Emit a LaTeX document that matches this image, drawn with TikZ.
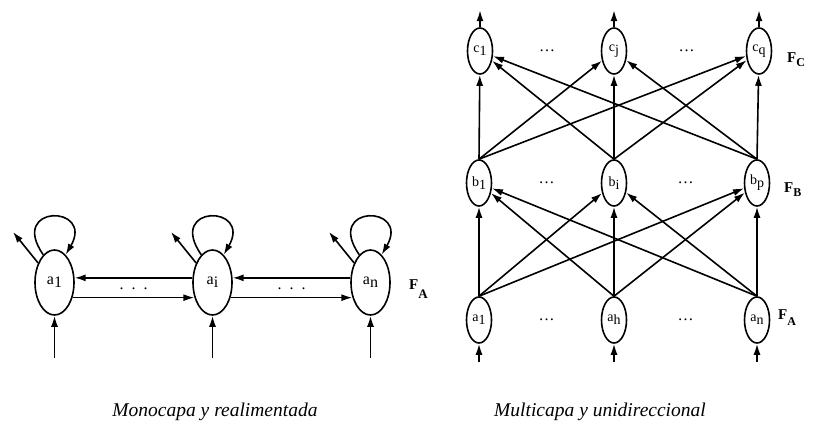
\documentclass[tikz,border=0pt]{standalone}
\usepackage{fontspec}
\setmainfont{Liberation Serif}
\usetikzlibrary{positioning,calc,shapes.geometric,arrows.meta}

\begin{document}
\begin{tikzpicture}[
    x=1pt, y=1pt,
    line width=1.6pt,
    every node/.style={font=\fontsize{16}{18}\selectfont},
    bigcell/.style={
        draw,
        ellipse,
        minimum width=39pt,
        minimum height=65pt,
        inner sep=0pt
    },
    cell/.style={
        draw,
        ellipse,
        minimum width=25pt,
        minimum height=46pt,
        inner sep=0pt,
        font=\fontsize{14}{16}\selectfont
    },
    layer/.style={font=\fontsize{15}{17}\selectfont\bfseries, anchor=west},
    caption/.style={font=\fontsize{19.5}{22}\selectfont\itshape},
    arrow/.style={-{Latex[length=11pt,width=7pt]}}
]
\useasboundingbox (0,0) rectangle (834,429);

% left: single layer with feedback
\node[bigcell] (a1) at (54.5,146.5) {a\raisebox{-3pt}{1}};
\node[bigcell] (ai) at (212.5,146.5) {a\raisebox{-3pt}{i}};
\node[bigcell] (an) at (370.5,146.5) {a\raisebox{-3pt}{n}};

\foreach \n in {a1,ai,an} {
    \draw[arrow] (\n.112) .. controls +(125:62) and +(60:58) .. (\n.68);
    \draw[arrow] (\n.130) -- ++(129:40);
    \coordinate (\n-in) at ($(\n.south)+(0,-42)$);
    \draw[arrow] (\n-in) -- (\n.south);
}

\draw[arrow] (ai.167) -- (a1.13);
\draw[arrow] (a1.-40) -- (ai.220);
\draw[arrow] (an.167) -- (ai.13);
\draw[arrow] (ai.-40) -- (an.220);

\node (d1) at ($(a1)!0.5!(ai)+(0,-6)$) {.\hspace{8pt}.\hspace{8pt}.};
\node (d2) at ($(ai)!0.5!(an)+(0,-6)$) {.\hspace{8pt}.\hspace{8pt}.};

\node[layer] (fa1) at (405,140) {F\raisebox{-9pt}{\fontsize{13}{15}\selectfont A}};

% right: multilayer, one direction
\node[cell] (xa1) at (479,109) {a\raisebox{-3pt}{1}};
\node[cell] (xah) at (614,109) {a\raisebox{-3pt}{h}};
\node[cell] (xan) at (757,109) {a\raisebox{-3pt}{n}};

\node[cell] (xb1) at (479,246) {b\raisebox{-3pt}{1}};
\node[cell] (xbi) at (614,246) {b\raisebox{-3pt}{i}};
\node[cell] (xbp) at (757,246) {b\raisebox{-3pt}{p}};

\node[cell] (xc1) at (480,378) {c\raisebox{-3pt}{1}};
\node[cell] (xcj) at (614,378) {c\raisebox{-3pt}{j}};
\node[cell] (xcq) at (759,378) {c\raisebox{-3pt}{q}};

% a -> b and b -> c
\foreach \s in {xa1,xah,xan} {
    \foreach \t in {xb1,xbi,xbp} {
        \draw[arrow] (\s.north) -- (\t);
    }
}
\foreach \s in {xb1,xbi,xbp} {
    \foreach \t in {xc1,xcj,xcq} {
        \draw[arrow] (\s.north) -- (\t);
    }
}

% inputs and outputs
\foreach \n in {xa1,xah,xan} {
    \coordinate (\n-in) at ($(\n.south)+(0,-18)$);
    \draw[arrow] (\n-in) -- (\n.south);
}
\foreach \n in {xc1,xcj,xcq} {
    \coordinate (\n-out) at ($(\n.north)+(0,17)$);
    \draw[arrow] (\n.north) -- (\n-out);
}

% dots between cells
\foreach \p/\q in {xa1/xah, xah/xan, xb1/xbi, xbi/xbp, xc1/xcj, xcj/xcq} {
    \node at ($(\p)!0.5!(\q)$) {\dots};
}

\node[layer] (fa2) at (774,111) {F\raisebox{-6pt}{\fontsize{12}{14}\selectfont A}};
\node[layer] (fb) at (780,239) {F\raisebox{-4pt}{\fontsize{12}{14}\selectfont B}};
\node[layer] (fc) at (783,369) {F\raisebox{-4pt}{\fontsize{12}{14}\selectfont C}};

% captions
\node[caption] (cap1) at (215,17) {Monocapa y realimentada};
\node[caption] (cap2) at (600,17) {Multicapa y unidireccional};
\end{tikzpicture}
\end{document}
